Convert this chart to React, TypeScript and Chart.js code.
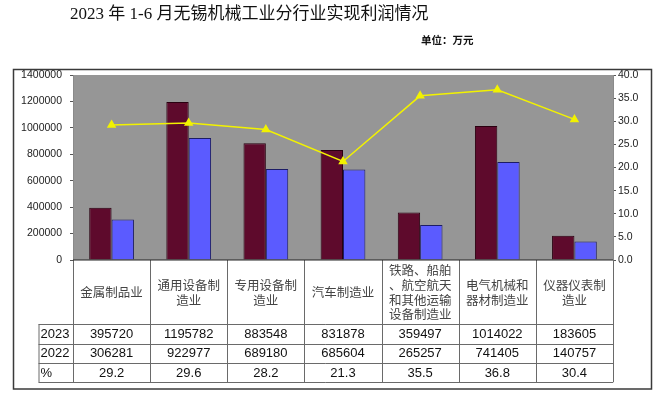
import React, { useEffect, useRef } from "react";
import { Chart, registerables } from "chart.js";

Chart.register(...registerables);

const titleText = "2023 年 1-6 月无锡机械工业分行业实现利润情况";
const unitText = "单位：万元";

const categories: string[][] = [
  ["金属制品业"],
  ["通用设备制", "造业"],
  ["专用设备制", "造业"],
  ["汽车制造业"],
  ["铁路、船舶", "、航空航天", "和其他运输", "设备制造业"],
  ["电气机械和", "器材制造业"],
  ["仪器仪表制", "造业"],
];

const seriesNames = ["2023", "2022", "%"];
const profit2023 = [395720, 1195782, 883548, 831878, 359497, 1014022, 183605];
const profit2022 = [306281, 922977, 689180, 685604, 265257, 741405, 140757];
const growthPct = [29.2, 29.6, 28.2, 21.3, 35.5, 36.8, 30.4];

const leftMin = 0;
const leftMax = 1400000;
const leftStep = 200000;
const rightMin = 0;
const rightMax = 40;
const rightStep = 5;

const COL_2023 = "#5e0a2c";
const COL_2022 = "#5b5bff";
const COL_LINE = "#f2f200";
const COL_PLOT = "#969696";

const excelPlugin = {
  id: "excelTable",
  beforeDraw(chart: any) {
    const { ctx, chartArea } = chart;
    ctx.save();
    ctx.fillStyle = "#ffffff";
    ctx.fillRect(0, 0, chart.width, chart.height);
    ctx.fillStyle = COL_PLOT;
    ctx.fillRect(chartArea.left, chartArea.top, chartArea.right - chartArea.left, chartArea.bottom - chartArea.top);
    ctx.restore();
  },
  afterDraw(chart: any) {
    const { ctx, chartArea } = chart;
    const x = chart.scales.x;
    const n = categories.length;
    const w = x.getPixelForValue(1) - x.getPixelForValue(0);
    const left = chartArea.left;
    const right = chartArea.right;
    const base = chartArea.bottom;
    const catBottom = base + 64.3;
    const rowH = 19.33;
    const labelLeft = 38.5;
    const tableBottom = catBottom + rowH * 3;

    ctx.save();
    // title
    ctx.fillStyle = "#111";
    ctx.textBaseline = "middle";
    ctx.textAlign = "left";
    ctx.font = '17px "Liberation Serif", "Noto Sans CJK SC", serif';
    ctx.fillText(titleText, 70, 15);
    ctx.font = 'bold 10.5px "Noto Sans CJK SC", sans-serif';
    ctx.fillText(unitText, 421, 40);

    // outer frame
    ctx.strokeStyle = "#3a3a3a";
    ctx.lineWidth = 1.5;
    ctx.strokeRect(13.5, 69.5, 638, 319.5);

    // table grid
    ctx.strokeStyle = "#6a6a6a";
    ctx.lineWidth = 1;
    ctx.beginPath();
    for (let i = 0; i <= n; i++) {
      const px = Math.round(x.getPixelForValue(i) - w / 2) + 0.5;
      ctx.moveTo(px, base);
      ctx.lineTo(px, tableBottom);
    }
    for (let r = 0; r <= 3; r++) {
      const py = Math.round(catBottom + r * rowH) + 0.5;
      ctx.moveTo(labelLeft, py);
      ctx.lineTo(right, py);
    }
    ctx.moveTo(labelLeft + 0.5, catBottom);
    ctx.lineTo(labelLeft + 0.5, tableBottom);
    ctx.stroke();

    // axis base line
    ctx.strokeStyle = "#222";
    ctx.lineWidth = 1.2;
    ctx.beginPath();
    ctx.moveTo(left, base);
    ctx.lineTo(right, base);
    ctx.stroke();

    // category labels
    ctx.fillStyle = "#444";
    ctx.textAlign = "center";
    ctx.font = '12.5px "Noto Sans CJK SC", sans-serif';
    const catMid = base + 32.5;
    const lh = 14.7;
    categories.forEach((lines, i) => {
      const cx = x.getPixelForValue(i);
      const start = catMid - ((lines.length - 1) * lh) / 2;
      lines.forEach((t, j) => ctx.fillText(t, cx, start + j * lh));
    });

    // data rows
    const rows = [
      profit2023.map((v) => String(v)),
      profit2022.map((v) => String(v)),
      growthPct.map((v) => v.toFixed(1)),
    ];
    ctx.font = '13px "Liberation Sans", Arial, sans-serif';
    rows.forEach((vals, r) => {
      const cy = catBottom + r * rowH + rowH / 2 + 0.5;
      ctx.fillStyle = "#111";
      ctx.textAlign = "left";
      ctx.fillText(seriesNames[r], 40.5, cy);
      ctx.textAlign = "center";
      vals.forEach((t, i) => ctx.fillText(t, x.getPixelForValue(i), cy));
    });
    ctx.restore();
  },
};

export default function App() {
  const ref = useRef<HTMLCanvasElement | null>(null);
  useEffect(() => {
    if (!ref.current) return;
    const chart = new Chart(ref.current, {
      type: "bar",
      data: {
        labels: categories.map((c) => c.join("")),
        datasets: [
          {
            type: "line",
            label: seriesNames[2],
            data: growthPct,
            yAxisID: "y1",
            borderColor: COL_LINE,
            backgroundColor: COL_LINE,
            borderWidth: 1.5,
            pointStyle: "triangle",
            pointRadius: 4,
            pointHoverRadius: 4,
            tension: 0,
            order: 0,
          } as any,
          {
            type: "bar",
            label: seriesNames[0],
            data: profit2023,
            yAxisID: "y",
            backgroundColor: COL_2023,
            borderColor: "#2a0010",
            borderWidth: 1,
            categoryPercentage: 0.58,
            barPercentage: 1,
            order: 1,
          },
          {
            type: "bar",
            label: seriesNames[1],
            data: profit2022,
            yAxisID: "y",
            backgroundColor: COL_2022,
            borderColor: "#1c1c66",
            borderWidth: 1,
            categoryPercentage: 0.58,
            barPercentage: 1,
            order: 1,
          },
        ],
      },
      options: {
        responsive: false,
        animation: false,
        devicePixelRatio: 1,
        layout: { padding: { left: 0, right: 0, top: 75, bottom: 136 } },
        plugins: {
          legend: { display: false },
          title: { display: false },
          tooltip: { enabled: false },
        },
        scales: {
          x: {
            type: "category",
            display: false,
            offset: true,
          },
          y: {
            position: "left",
            min: leftMin,
            max: leftMax,
            afterFit: (s: any) => {
              s.width = 73;
            },
            ticks: {
              stepSize: leftStep,
              padding: 8,
              color: "#222",
              font: { family: '"Liberation Sans", Arial, sans-serif', size: 10.5 },
              callback: (v: any) => String(v),
            },
            grid: { drawOnChartArea: false, drawTicks: true, tickLength: 3, color: "#555" },
            border: { display: true, color: "#8a8a8a" },
          },
          y1: {
            position: "right",
            min: rightMin,
            max: rightMax,
            afterFit: (s: any) => {
              s.width = 51;
            },
            ticks: {
              stepSize: rightStep,
              padding: 2,
              color: "#222",
              font: { family: '"Liberation Sans", Arial, sans-serif', size: 10.5 },
              callback: (v: any) => Number(v).toFixed(1),
            },
            grid: { drawOnChartArea: false, drawTicks: true, tickLength: 3, color: "#555" },
            border: { display: true, color: "#8a8a8a" },
          },
        },
      },
      plugins: [excelPlugin],
    });
    return () => chart.destroy();
  }, []);
  return (
    <div style={{ position: "fixed", left: 0, top: 0, width: 664, height: 396, background: "#fff" }}>
      <canvas ref={ref} width={664} height={396} style={{ width: 664, height: 396, display: "block" }} />
    </div>
  );
}
